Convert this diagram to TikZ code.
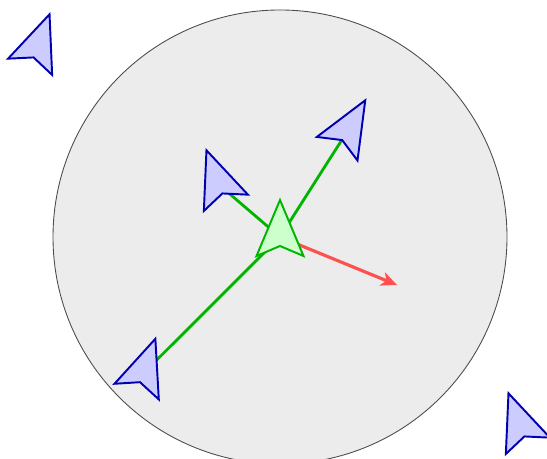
\documentclass[tikz,border=0pt]{standalone}
\usetikzlibrary{arrows.meta}
\definecolor{rangegray}{RGB}{236,236,236}
\definecolor{flockblue}{RGB}{0,0,176}
\definecolor{flockfill}{RGB}{204,204,255}
\definecolor{selfgreen}{RGB}{0,180,0}
\definecolor{selffill}{RGB}{204,255,204}
\definecolor{steerred}{RGB}{255,80,80}
\tikzset{
  pics/boid/.style={code={
      \draw[#1] (37,0) -- (-19,23.5) -- (-9,0) -- (-19,-23.5) -- cycle;
  }}
}
\begin{document}
\begin{tikzpicture}[x=0.02cm, y=0.02cm, line join=miter,
    otherboid/.style={draw=flockblue, fill=flockfill, line width=1.1pt},
    selfboid/.style={draw=selfgreen, fill=selffill, line width=1.1pt},
    neighbor/.style={selfgreen, line width=1.6pt},
    steer/.style={steerred, line width=1.8pt, -{Stealth[length=9pt, width=8pt, inset=2.5pt]}}]
  \useasboundingbox (0,0) rectangle (547,459);
  \clip (0,0) rectangle (547,459);

  % === perception range ===
  \draw[fill=rangegray, draw=black!70, line width=0.5pt] (280,222) circle (227);

  % boid positions
  \coordinate (self) at (280,222);
  \coordinate (n1) at (219.3,274);
  \coordinate (n2) at (346.7,326.7);
  \coordinate (n3) at (143,85.3);
  \coordinate (far1) at (36.7,410);
  \coordinate (far2) at (521.3,31);
  \coordinate (steerend) at (397,174);

  % links to neighbours
  \draw[neighbor] (self) -- (n1);
  \draw[neighbor] (self) -- (n2);
  \draw[neighbor] (self) -- (n3);

  % steering
  \draw[steer] (self) -- (steerend);

  % === boids ===
  \pic[rotate=110.3] at (n1) {boid=otherboid};
  \pic[rotate=59.9] at (n2) {boid=otherboid};
  \pic[rotate=70.5] at (n3) {boid=otherboid};
  \pic[rotate=69.7] at (far1) {boid=otherboid};
  \pic[rotate=110.3] at (far2) {boid=otherboid};
  \pic[rotate=90] at (self) {boid=selfboid};
\end{tikzpicture}
\end{document}
